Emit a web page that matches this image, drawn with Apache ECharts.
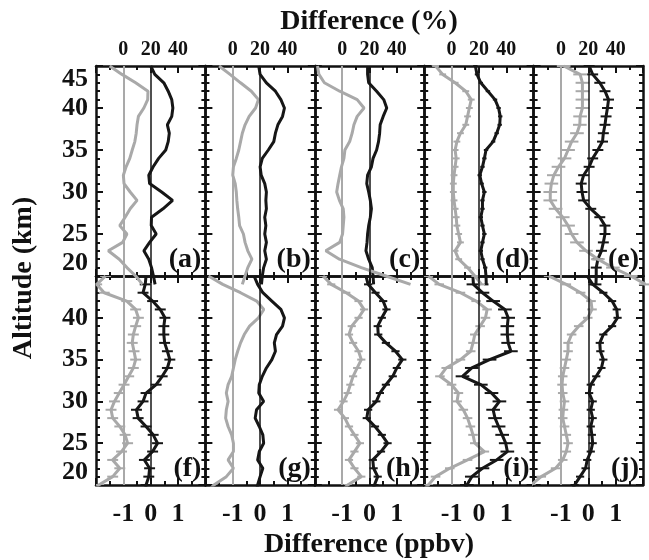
<!DOCTYPE html>
<html lang="en">
<head>
    <meta charset="UTF-8">
    <title>Difference profiles</title>
    <script type="text/javascript" src="https://cdn.jsdelivr.net/npm/echarts@6/dist/echarts.min.js"></script>
    <style type="text/css">
        body{margin:0;background:#fff;}
        #main{width:649px;height:560px;}
    </style>
</head>
<body>
<div id="main"></div>
<script type="text/javascript">
    // altitude levels (km), same for every panel
    var alt = [45,44,43,42,41,40,39,38,37,36,35,34,33,32,31,30,29,28,27,26,25,24,23,22,21,20,19];

    // gray curves: difference in %, read on the top axis
    var pctA = [-10,-1,9,18,17.8,15,11,10,9.4,8.4,6.5,4.7,2,0,0.5,5,10,5,1.3,-2.6,2.6,-0.5,-11,-3,2.6,9,14];
    var pctB = [-10,-2,5.7,13.6,18.8,16.7,12,9,7,5.7,4.4,2.6,0.5,0,1.8,2.6,3,3.6,4.4,5,7.8,9,11,14,11,9,7];
    var pctC = [-18,-17,-13,-1.8,11,16,11,8.6,7.3,5.5,2,1.3,-0.5,-1.8,-3,-4,-2,0.8,1.3,0.8,0.3,-1.8,-12,-2,14,32,50];
    var pctD = [-11.7,-6.5,2.6,10.4,14.4,13,11.7,10.4,6.5,3.9,2.6,3.4,2.6,1.8,1.3,1.3,1.8,2.6,3.4,3.9,5.2,6.5,2.6,5.2,11.7,17,22];
    var pctE = [2,14,15.7,15.7,15.7,15.7,14,13.8,11.7,7.8,5.2,2.6,-1.8,-5.2,-7,-7.8,-7.8,-3.9,1.3,5.2,7.8,11.7,18.3,27,38,51,62];
    var pctF = [-13,-19.5,-14,2.5,9,11,9,7.3,6.5,7.8,9,7.3,3.9,0.5,-3,-6.5,-9,-7.8,-2.6,1.3,3.1,-1.3,-7.8,-2.6,-7.8,-18,-24];
    var pctG = [-17.7,-7.3,5.7,17.5,22.7,18.8,12.3,8.4,5.7,3.6,1.8,0.5,-0.8,-3.4,-4.7,-3.4,-4.7,-5.2,-3.4,-0.8,0.5,0.5,-3.4,0.5,-4.7,-13.8,-20];
    var pctH = [-14,-8,3,12,16,12,7,5,8,12,14,11,8,6,4,1,-3,2,5,9,13,9,5,9,14,4,-2];
    var pctI = [-17,-9,6.5,18,26,24.8,20.9,17,15.7,14,6.5,-3.9,-8.5,0,5,4,8.6,11.7,13.8,15.7,17,24,11.7,-1.3,-11.7,-17,-24];
    var pctJ = [-9,3.9,14.4,22,22.7,19.6,13,7.8,5.2,5.2,3.9,2.6,1.3,0.8,1.3,2.6,1.8,1.3,2.6,3.9,5.2,3.9,1.3,-3.9,-14.4,-22,-28];

    // black curves: difference in ppbv, read on the bottom axis
    var ppbA = [0,0.15,0.48,0.64,0.77,0.81,0.77,0.61,0.68,0.64,0.55,0.29,0.09,-0.07,-0.04,0.4,0.8,0.45,0.03,0.02,0.2,-0.04,-0.25,-0.07,0.03,0.1,0.16];
    var ppbB = [-0.05,0,0.23,0.56,0.76,0.89,0.82,0.65,0.56,0.5,0.3,0.08,0,0.04,0.17,0.23,0.21,0.23,0.17,0.21,0.17,0.23,0.17,0.23,0.13,0.08,0.05];
    var ppbC = [-0.07,-0.07,-0.03,0.26,0.52,0.63,0.5,0.39,0.37,0.33,0.26,0.13,0.07,-0.07,-0.1,-0.03,0.03,0.07,0.03,-0.03,-0.07,-0.09,-0.13,-0.03,0.1,0.13,0.15];
    var ppbD = [-0.13,-0.07,0.07,0.33,0.59,0.72,0.78,0.76,0.65,0.52,0.26,0.2,0.13,0.03,0.1,0.2,0.13,0.13,0.07,0.13,0.2,0.13,0.07,0.13,0.23,0.26,0.27];
    var ppbE = [0.03,0.16,0.42,0.61,0.74,0.7,0.65,0.61,0.55,0.52,0.35,0.16,0.03,-0.17,-0.26,-0.23,-0.17,0.09,0.42,0.61,0.61,0.55,0.48,0.35,0.29,0.29,0.28];
    var ppbF = [-0.17,-0.2,-0.28,0.07,0.35,0.52,0.48,0.48,0.51,0.61,0.7,0.61,0.42,0.2,-0.17,-0.28,-0.52,-0.46,-0.17,0.09,0.25,0.07,-0.23,-0.04,-0.07,-0.17,-0.2];
    var ppbG = [-0.22,-0.09,0.1,0.43,0.76,0.89,0.82,0.6,0.52,0.56,0.43,0.23,0.08,-0.03,-0.05,0.13,-0.13,-0.18,-0.03,0.1,0.13,-0.03,-0.09,0.1,0,-0.09,-0.15];
    var ppbH = [-0.13,-0.05,0.22,0.5,0.62,0.45,0.3,0.32,0.6,0.95,1.2,1.0,0.85,0.6,0.38,0.25,-0.05,-0.1,0.2,0.45,0.66,0.42,0.12,0.15,0.3,0.18,0.1];
    var ppbI = [-0.22,-0.2,0.13,0.52,0.95,1.07,1.04,1.04,1.07,1.17,0.39,-0.26,-0.6,0.07,0.46,0.75,0.52,0.59,0.72,0.85,0.98,1.04,0.65,0.13,-0.26,-0.44,-0.6];
    var ppbJ = [-0.04,0.16,0.55,0.87,1.04,1.07,0.87,0.55,0.42,0.44,0.55,0.48,0.29,0.09,0.03,0.16,0.09,0.16,0.09,0.13,0.16,0.09,-0.04,-0.1,-0.3,-0.5,-0.65];

    // error bar half widths per panel (a..j)
    var errPct = [0,0,0,2.5,5,4,0,3,3.5,3.5];
    var errPpb = [0,0,0,0.08,0.2,0.2,0,0.15,0.25,0.15];

    var panelNames = ['(a)','(b)','(c)','(d)','(e)','(f)','(g)','(h)','(i)','(j)'];
    var pctAll = [pctA,pctB,pctC,pctD,pctE,pctF,pctG,pctH,pctI,pctJ];
    var ppbAll = [ppbA,ppbB,ppbC,ppbD,ppbE,ppbF,ppbG,ppbH,ppbI,ppbJ];

    var pctTicks = {min:-20, max:60, step:20};
    var ppbTicks = {min:-2, max:2, step:1};
    var altTicks = {min:20, max:45, step:5};

    var serif = "'Liberation Serif','Times New Roman',serif";
    var gray = '#a9a9a9';
    var black = '#161616';

    //panel layout
    var x0 = 96, pw = 109.4;
    var rowTop = [66, 276], rowH = [210, 209];

    function zip(xs, err) {
        var out = [];
        for (var k = 0; k < alt.length; k++) {
            out.push(err === undefined ? [xs[k], alt[k]] : [xs[k], alt[k], err]);
        }
        return out;
    }

    function errBars(color) {
        return function (params, api) {
            var e = api.value(2);
            var p1 = api.coord([api.value(0) - e, api.value(1)]);
            var p2 = api.coord([api.value(0) + e, api.value(1)]);
            return {type:'line', shape:{x1:p1[0], y1:p1[1], x2:p2[0], y2:p2[1]},
                style:{stroke:color, lineWidth:2}};
        };
    }

    var grids = [], xAxes = [], yAxes = [], series = [], graphics = [];

    for (var i = 0; i < 10; i++) {
        var col = i % 5, row = Math.floor(i / 5);
        var gl = x0 + col * pw;
        grids.push({left:gl, top:rowTop[row], width:pw, height:rowH[row]});

        var lineSty = {color:'#111', width:2.5};
        // bottom axis: ppbv
        xAxes.push({
            type:'value', gridIndex:i, position:'bottom',
            min:ppbTicks.min, max:ppbTicks.max, interval:ppbTicks.step,
            axisLine:{show:true, onZero:false, lineStyle:lineSty},
            axisTick:{show:true, inside:true, length:7, lineStyle:{width:2, color:'#111'}},
            minorTick:{show:true, splitNumber:2, length:4, lineStyle:{width:2, color:'#111'}},
            splitLine:{show:false},
            axisLabel:{show:row === 1, showMinLabel:false, showMaxLabel:false, margin:16,
                fontFamily:serif, fontWeight:'bold', fontSize:26, color:'#111'}
        });
        // top axis: percent
        xAxes.push({
            type:'value', gridIndex:i, position:'top',
            min:pctTicks.min, max:pctTicks.max, interval:pctTicks.step,
            axisLine:{show:true, onZero:false, lineStyle:lineSty},
            axisTick:{show:true, inside:true, length:7, lineStyle:{width:2, color:'#111'}},
            minorTick:{show:true, splitNumber:2, length:4, lineStyle:{width:2, color:'#111'}},
            splitLine:{show:false},
            axisLabel:{show:row === 0, showMinLabel:false, showMaxLabel:false, margin:6,
                fontFamily:serif, fontWeight:'bold', fontSize:20, color:'#111'}
        });
        // altitude, left and right
        yAxes.push({
            type:'value', gridIndex:i, position:'left',
            min:altTicks.min, max:altTicks.max, interval:altTicks.step,
            axisLine:{show:true, onZero:false, lineStyle:lineSty},
            axisTick:{show:true, inside:true, length:7, lineStyle:{width:2, color:'#111'}},
            minorTick:{show:true, splitNumber:5, length:4, lineStyle:{width:2, color:'#111'}},
            splitLine:{show:false},
            axisLabel:{show:col === 0, showMaxLabel:row === 0, margin:8,
                verticalAlignMaxLabel:'top', verticalAlignMinLabel:'bottom',
                fontFamily:serif, fontWeight:'bold', fontSize:26, color:'#111'}
        });
        yAxes.push({
            type:'value', gridIndex:i, position:'right',
            min:altTicks.min, max:altTicks.max, interval:altTicks.step,
            axisLine:{show:true, onZero:false, lineStyle:lineSty},
            axisTick:{show:true, inside:true, length:7, lineStyle:{width:2, color:'#111'}},
            minorTick:{show:true, splitNumber:5, length:4, lineStyle:{width:2, color:'#111'}},
            splitLine:{show:false},
            axisLabel:{show:false}
        });

        var clip = row === 1;
        // zero reference lines
        series.push({
            type:'line', xAxisIndex:2*i+1, yAxisIndex:2*i, data:[], z:1, silent:true,
            markLine:{silent:true, symbol:'none', label:{show:false}, animation:false,
                lineStyle:{color:gray, width:2, type:'solid'}, data:[{xAxis:0}]}
        });
        series.push({
            type:'line', xAxisIndex:2*i, yAxisIndex:2*i, data:[], z:1, silent:true,
            markLine:{silent:true, symbol:'none', label:{show:false}, animation:false,
                lineStyle:{color:black, width:1.5, type:'solid'}, data:[{xAxis:0}]}
        });
        // black ppbv profile
        series.push({
            type:'line', xAxisIndex:2*i, yAxisIndex:2*i, data:zip(ppbAll[i]),
            showSymbol:false, clip:clip, z:3,
            lineStyle:{color:black, width:3}
        });
        // gray percent profile
        series.push({
            type:'line', xAxisIndex:2*i+1, yAxisIndex:2*i, data:zip(pctAll[i]),
            showSymbol:false, clip:clip, z:4,
            lineStyle:{color:gray, width:3}
        });
        if (errPpb[i] > 0) {
            series.push({type:'custom', xAxisIndex:2*i, yAxisIndex:2*i, z:3, clip:clip,
                renderItem:errBars(black), data:zip(ppbAll[i], errPpb[i])});
        }
        if (errPct[i] > 0) {
            series.push({type:'custom', xAxisIndex:2*i+1, yAxisIndex:2*i, z:4, clip:clip,
                renderItem:errBars(gray), data:zip(pctAll[i], errPct[i])});
        }

        graphics.push({
            type:'text', z:10,
            x:gl + pw - 4, y:rowTop[row] + rowH[row] - 16,
            style:{text:panelNames[i], align:'right', verticalAlign:'middle',
                font:'bold 28px ' + serif, fill:'#111'}
        });
    }

    graphics.push({type:'text', x:369, y:22,
        style:{text:'Difference (%)', align:'center', verticalAlign:'middle', font:'bold 28px ' + serif, fill:'#111'}});
    graphics.push({type:'text', x:369, y:545,
        style:{text:'Difference (ppbv)', align:'center', verticalAlign:'middle', font:'bold 28px ' + serif, fill:'#111'}});
    graphics.push({type:'text', x:24, y:278, rotation:Math.PI / 2,
        style:{text:'Altitude (km)', align:'center', verticalAlign:'middle', font:'bold 28px ' + serif, fill:'#111'}});

    var myChart = echarts.init(document.getElementById('main'));
    myChart.setOption({
        animation:false,
        grid:grids,
        xAxis:xAxes,
        yAxis:yAxes,
        series:series,
        graphic:graphics
    });
</script>
</body>
</html>
